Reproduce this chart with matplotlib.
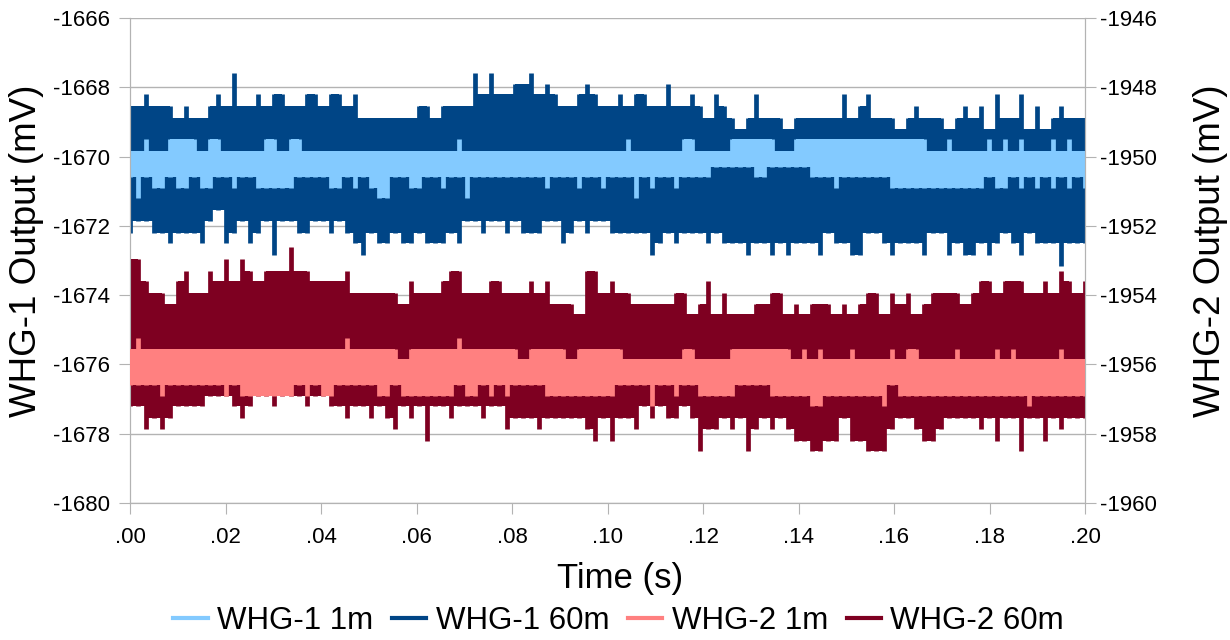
import numpy as np
import matplotlib.pyplot as plt
from matplotlib.lines import Line2D
from matplotlib.ticker import FuncFormatter

plt.rcParams['font.family'] = ['Liberation Sans', 'DejaVu Sans']
plt.rcParams['axes.unicode_minus'] = False

# sample times (s) and min/max envelope of each trace per sample bin
t = np.linspace(0, 0.2, 120)

# WHG-1 (left axis, mV)
whg1_60m_hi = [
    -1668.55, -1668.55, -1668.2, -1668.55, -1668.55, -1668.55, -1668.9, -1668.55, -1668.9, -1668.9,
    -1668.55, -1668.2, -1668.55, -1667.6, -1668.55, -1668.55, -1668.2, -1668.55, -1668.2, -1668.2,
    -1668.55, -1668.55, -1668.2, -1668.2, -1668.55, -1668.2, -1668.2, -1668.55, -1668.2, -1668.9,
    -1668.9, -1668.9, -1668.9, -1668.9, -1668.9, -1668.9, -1668.55, -1668.55, -1668.9, -1668.55,
    -1668.55, -1668.55, -1668.55, -1667.6, -1668.2, -1667.6, -1668.2, -1668.2, -1667.9, -1667.9,
    -1667.6, -1668.2, -1667.9, -1668.2, -1668.55, -1668.55, -1668.2, -1667.9, -1668.2, -1668.55,
    -1668.55, -1668.2, -1668.55, -1668.2, -1668.2, -1668.55, -1668.55, -1667.9, -1668.55, -1668.55,
    -1668.2, -1668.55, -1668.9, -1668.2, -1668.55, -1668.9, -1669.2, -1668.9, -1668.2, -1668.9,
    -1668.9, -1668.9, -1669.2, -1668.9, -1668.9, -1668.9, -1668.9, -1668.9, -1668.9, -1668.2,
    -1668.9, -1668.55, -1668.2, -1668.9, -1668.9, -1668.9, -1669.2, -1668.9, -1668.55, -1668.9,
    -1668.9, -1668.9, -1669.2, -1668.9, -1668.55, -1668.9, -1668.55, -1669.2, -1668.2, -1668.9,
    -1668.9, -1668.2, -1669.2, -1668.55, -1669.2, -1668.9, -1668.55, -1668.9, -1668.9, -1668.9]
whg1_60m_lo = [
    -1672.2, -1671.85, -1671.85, -1672.2, -1672.2, -1672.5, -1672.2, -1672.2, -1672.2, -1672.5,
    -1671.85, -1671.55, -1672.5, -1672.2, -1671.85, -1672.5, -1672.2, -1671.85, -1672.85, -1671.85,
    -1671.85, -1672.2, -1672.2, -1671.85, -1671.85, -1672.2, -1671.85, -1672.2, -1672.5, -1672.85,
    -1672.2, -1672.5, -1672.5, -1672.2, -1672.5, -1672.5, -1672.2, -1672.5, -1672.5, -1672.5,
    -1672.2, -1672.5, -1671.85, -1671.85, -1672.2, -1671.85, -1671.85, -1672.2, -1671.85, -1672.2,
    -1672.2, -1672.2, -1671.85, -1671.85, -1672.5, -1672.2, -1671.85, -1672.2, -1671.85, -1671.85,
    -1672.2, -1672.2, -1672.2, -1672.2, -1672.2, -1672.85, -1672.5, -1672.2, -1672.5, -1672.2,
    -1672.2, -1672.2, -1672.5, -1672.2, -1672.5, -1672.5, -1672.5, -1672.85, -1672.5, -1672.5,
    -1672.85, -1672.5, -1672.85, -1672.5, -1672.5, -1672.5, -1672.85, -1672.2, -1672.5, -1672.5,
    -1672.85, -1672.85, -1672.2, -1672.2, -1672.5, -1672.85, -1672.5, -1672.5, -1672.5, -1672.85,
    -1672.2, -1672.2, -1672.85, -1672.5, -1672.85, -1672.85, -1672.5, -1672.85, -1672.5, -1672.2,
    -1672.5, -1672.85, -1672.2, -1672.5, -1672.5, -1672.5, -1673.15, -1672.5, -1672.5, -1672.5]
whg1_1m_hi = [
    -1669.85, -1669.85, -1669.5, -1669.85, -1669.85, -1669.5, -1669.5, -1669.5, -1669.5, -1669.85,
    -1669.5, -1669.5, -1669.85, -1669.85, -1669.85, -1669.85, -1669.85, -1669.5, -1669.5, -1669.85,
    -1669.5, -1669.5, -1669.85, -1669.85, -1669.85, -1669.85, -1669.85, -1669.85, -1669.85, -1669.85,
    -1669.85, -1669.85, -1669.85, -1669.85, -1669.85, -1669.85, -1669.85, -1669.85, -1669.85, -1669.85,
    -1669.85, -1669.5, -1669.85, -1669.85, -1669.85, -1669.85, -1669.85, -1669.85, -1669.85, -1669.85,
    -1669.85, -1669.85, -1669.85, -1669.85, -1669.85, -1669.85, -1669.85, -1669.85, -1669.85, -1669.85,
    -1669.85, -1669.85, -1669.5, -1669.85, -1669.85, -1669.85, -1669.85, -1669.85, -1669.85, -1669.5,
    -1669.5, -1669.85, -1669.85, -1669.85, -1669.85, -1669.5, -1669.5, -1669.5, -1669.5, -1669.5,
    -1669.5, -1669.85, -1669.85, -1669.5, -1669.5, -1669.5, -1669.5, -1669.5, -1669.5, -1669.5,
    -1669.5, -1669.5, -1669.5, -1669.5, -1669.5, -1669.5, -1669.5, -1669.5, -1669.5, -1669.5,
    -1669.85, -1669.85, -1669.5, -1669.85, -1669.85, -1669.85, -1669.85, -1669.5, -1669.85, -1669.5,
    -1669.85, -1669.5, -1669.85, -1669.85, -1669.85, -1669.5, -1669.85, -1669.5, -1669.85, -1669.85]
whg1_1m_lo = [
    -1670.6, -1671.2, -1670.6, -1670.9, -1670.9, -1670.6, -1670.9, -1670.9, -1670.6, -1670.9,
    -1670.9, -1670.6, -1670.6, -1670.9, -1670.6, -1670.6, -1670.9, -1670.9, -1670.9, -1670.9,
    -1670.9, -1670.6, -1670.6, -1670.6, -1670.6, -1670.9, -1670.9, -1670.6, -1670.9, -1670.6,
    -1670.9, -1671.2, -1671.2, -1670.6, -1670.6, -1670.9, -1670.9, -1670.6, -1670.6, -1670.9,
    -1670.6, -1670.6, -1671.2, -1670.6, -1670.6, -1670.6, -1670.6, -1670.6, -1670.6, -1670.6,
    -1670.6, -1670.6, -1670.9, -1670.6, -1670.6, -1670.6, -1670.9, -1670.6, -1670.6, -1670.9,
    -1670.6, -1670.6, -1670.6, -1671.2, -1670.6, -1670.9, -1670.6, -1670.6, -1670.9, -1670.6,
    -1670.6, -1670.6, -1670.6, -1670.3, -1670.3, -1670.3, -1670.3, -1670.3, -1670.6, -1670.6,
    -1670.3, -1670.3, -1670.3, -1670.3, -1670.3, -1670.6, -1670.6, -1670.6, -1670.9, -1670.6,
    -1670.6, -1670.6, -1670.6, -1670.6, -1670.6, -1670.9, -1670.9, -1670.9, -1670.9, -1670.9,
    -1670.9, -1670.9, -1670.9, -1670.9, -1670.9, -1670.9, -1670.9, -1670.6, -1670.9, -1670.9,
    -1670.6, -1670.9, -1670.6, -1670.9, -1670.6, -1670.9, -1670.6, -1670.9, -1670.6, -1670.9]

# WHG-2 (right axis, mV)
whg2_60m_hi = [
    -1952.95, -1952.95, -1953.6, -1953.95, -1953.95, -1954.25, -1953.6, -1953.3, -1953.95, -1953.95,
    -1953.3, -1953.6, -1952.95, -1953.6, -1952.95, -1953.3, -1953.6, -1953.3, -1953.3, -1953.3,
    -1952.6, -1953.3, -1953.3, -1953.6, -1953.6, -1953.6, -1953.6, -1953.3, -1953.95, -1953.95,
    -1953.95, -1953.95, -1953.95, -1953.95, -1954.25, -1953.6, -1953.95, -1953.95, -1953.95, -1953.6,
    -1953.3, -1953.3, -1953.95, -1953.95, -1953.95, -1953.6, -1953.6, -1953.95, -1953.95, -1953.95,
    -1953.6, -1953.95, -1953.6, -1954.25, -1954.25, -1954.25, -1954.55, -1953.3, -1953.3, -1953.95,
    -1953.6, -1953.95, -1953.95, -1954.25, -1954.25, -1954.25, -1954.25, -1954.25, -1953.95, -1953.95,
    -1954.55, -1954.25, -1953.6, -1954.55, -1953.95, -1954.55, -1954.55, -1954.55, -1954.25, -1954.25,
    -1953.95, -1953.95, -1954.55, -1954.25, -1954.55, -1954.25, -1954.25, -1954.25, -1954.55, -1954.25,
    -1954.55, -1954.25, -1953.95, -1953.95, -1954.55, -1953.95, -1954.25, -1953.95, -1954.55, -1954.25,
    -1953.95, -1953.95, -1953.95, -1953.95, -1954.25, -1953.95, -1953.6, -1953.6, -1953.95, -1953.6,
    -1953.6, -1953.6, -1953.95, -1953.95, -1953.6, -1953.95, -1953.3, -1953.6, -1953.95, -1953.6]
whg2_60m_lo = [
    -1957.2, -1957.2, -1957.85, -1957.55, -1957.85, -1957.55, -1957.2, -1957.2, -1957.2, -1957.2,
    -1956.9, -1956.9, -1956.9, -1957.2, -1957.55, -1957.2, -1956.9, -1956.9, -1957.2, -1956.9,
    -1956.9, -1956.9, -1957.2, -1956.9, -1956.9, -1957.2, -1957.2, -1957.55, -1957.2, -1957.2,
    -1957.55, -1957.2, -1957.55, -1957.85, -1957.2, -1957.55, -1957.2, -1958.2, -1957.2, -1957.2,
    -1957.55, -1957.2, -1957.2, -1957.2, -1957.55, -1957.2, -1957.2, -1957.85, -1957.55, -1957.55,
    -1957.55, -1957.85, -1957.55, -1957.55, -1957.55, -1957.55, -1957.55, -1957.85, -1958.2, -1957.55,
    -1958.2, -1957.55, -1957.55, -1957.85, -1957.2, -1957.55, -1957.2, -1957.55, -1957.55, -1957.2,
    -1957.55, -1958.5, -1957.85, -1957.85, -1957.55, -1957.85, -1957.55, -1958.5, -1957.85, -1957.55,
    -1957.85, -1957.55, -1957.85, -1958.2, -1958.2, -1958.5, -1958.5, -1958.2, -1958.2, -1957.55,
    -1958.2, -1958.2, -1958.5, -1958.5, -1958.5, -1957.85, -1957.55, -1957.55, -1957.85, -1958.2,
    -1958.2, -1957.85, -1957.55, -1957.55, -1957.55, -1957.55, -1957.85, -1957.55, -1958.2, -1957.55,
    -1957.55, -1958.5, -1957.55, -1957.55, -1958.2, -1957.55, -1957.85, -1957.55, -1957.55, -1957.55]
whg2_1m_hi = [
    -1955.55, -1955.25, -1955.55, -1955.55, -1955.55, -1955.55, -1955.55, -1955.55, -1955.55, -1955.55,
    -1955.55, -1955.55, -1955.55, -1955.55, -1955.55, -1955.55, -1955.55, -1955.55, -1955.55, -1955.55,
    -1955.55, -1955.55, -1955.55, -1955.55, -1955.55, -1955.55, -1955.55, -1955.25, -1955.55, -1955.55,
    -1955.55, -1955.55, -1955.55, -1955.55, -1955.85, -1955.55, -1955.55, -1955.55, -1955.55, -1955.55,
    -1955.55, -1955.25, -1955.55, -1955.55, -1955.55, -1955.55, -1955.55, -1955.55, -1955.55, -1955.85,
    -1955.55, -1955.55, -1955.55, -1955.55, -1955.55, -1955.85, -1955.55, -1955.55, -1955.55, -1955.55,
    -1955.55, -1955.55, -1955.85, -1955.85, -1955.85, -1955.85, -1955.85, -1955.85, -1955.85, -1955.55,
    -1955.55, -1955.85, -1955.85, -1955.85, -1955.85, -1955.55, -1955.55, -1955.55, -1955.55, -1955.55,
    -1955.55, -1955.55, -1955.55, -1955.85, -1955.55, -1955.85, -1955.55, -1955.85, -1955.85, -1955.85,
    -1955.55, -1955.85, -1955.85, -1955.85, -1955.85, -1955.55, -1955.85, -1955.55, -1955.55, -1955.85,
    -1955.85, -1955.85, -1955.85, -1955.55, -1955.85, -1955.85, -1955.85, -1955.85, -1955.55, -1955.85,
    -1955.55, -1955.85, -1955.85, -1955.85, -1955.85, -1955.85, -1955.55, -1955.85, -1955.85, -1955.85]
whg2_1m_lo = [
    -1956.6, -1956.6, -1956.6, -1956.6, -1956.9, -1956.6, -1956.6, -1956.6, -1956.6, -1956.6,
    -1956.6, -1956.6, -1956.9, -1956.6, -1956.9, -1956.9, -1956.9, -1956.9, -1956.9, -1956.9,
    -1956.9, -1956.6, -1956.9, -1956.6, -1956.9, -1956.9, -1956.6, -1956.6, -1956.6, -1956.6,
    -1956.6, -1956.9, -1956.9, -1956.6, -1956.9, -1956.9, -1956.9, -1956.9, -1956.9, -1956.9,
    -1956.9, -1956.6, -1956.9, -1956.9, -1956.6, -1956.9, -1956.6, -1956.9, -1956.6, -1956.6,
    -1956.6, -1956.6, -1956.9, -1956.9, -1956.9, -1956.9, -1956.9, -1956.9, -1956.9, -1956.9,
    -1956.9, -1956.6, -1956.6, -1956.6, -1956.6, -1957.2, -1956.6, -1956.6, -1956.9, -1956.6,
    -1956.6, -1956.9, -1956.9, -1956.9, -1956.9, -1956.9, -1956.6, -1956.6, -1956.6, -1956.6,
    -1956.9, -1956.9, -1956.9, -1956.9, -1956.9, -1957.2, -1957.2, -1956.9, -1956.9, -1956.9,
    -1956.9, -1956.9, -1956.9, -1956.9, -1957.2, -1956.6, -1956.9, -1956.9, -1956.9, -1956.9,
    -1956.9, -1956.9, -1956.9, -1956.9, -1956.9, -1956.9, -1956.9, -1956.9, -1956.9, -1956.9,
    -1956.9, -1956.9, -1957.2, -1956.9, -1956.9, -1956.9, -1956.9, -1956.9, -1956.9, -1956.9]

labels = ['WHG-1 1m', 'WHG-1 60m', 'WHG-2 1m', 'WHG-2 60m']
colors = ['#83caff', '#004586', '#ff8080', '#7e0021']
grid_c = '#b3b3b3'


def trace(a, lo, hi, color, z):
    # dense trace drawn as its envelope: shared level between neighbouring
    # samples is filled, each sample's own extreme is a narrow stroke
    lo = np.asarray(lo)
    hi = np.asarray(hi)
    hi_seg = np.append(np.minimum(hi[:-1], hi[1:]), hi[-1])
    lo_seg = np.append(np.maximum(lo[:-1], lo[1:]), lo[-1])
    a.fill_between(t, lo_seg, hi_seg, step='post', color=color, lw=0, zorder=z)
    a.vlines(t, lo, hi, color=color, lw=3.4, zorder=z)


fig = plt.figure(figsize=(12.3, 6.4), dpi=100)
ax = fig.add_axes([130 / 1230, 137 / 640, 955 / 1230, 485 / 640])
ax2 = ax.twinx()

trace(ax, whg1_60m_lo, whg1_60m_hi, colors[1], 2)
trace(ax, whg1_1m_lo, whg1_1m_hi, colors[0], 3)
trace(ax2, whg2_60m_lo, whg2_60m_hi, colors[3], 2)
trace(ax2, whg2_1m_lo, whg2_1m_hi, colors[2], 3)

ax.set_xlim(0, 0.2)
ax.set_ylim(-1680, -1666)
ax2.set_ylim(-1960, -1946)
ax.set_xticks(np.arange(0, 0.2001, 0.02))
ax.set_yticks(np.arange(-1680, -1665, 2))
ax2.set_yticks(np.arange(-1960, -1945, 2))
ax.xaxis.set_major_formatter(FuncFormatter(lambda v, p: f'{v:.2f}'[1:]))

ax.set_axisbelow(True)
ax.yaxis.grid(True, color=grid_c, lw=1)
for a in (ax, ax2):
    a.spines['top'].set_visible(False)
    for s in ('left', 'right', 'bottom'):
        a.spines[s].set_color(grid_c)
ax.tick_params(axis='both', direction='out', length=8, color=grid_c, labelsize=16)
ax.tick_params(axis='y', pad=6.5)
ax.tick_params(axis='x', pad=9)
ax2.tick_params(axis='y', direction='out', length=8, color=grid_c, labelsize=16, pad=3)

ax.set_xlabel('Time (s)', fontsize=25, va='center')
ax.xaxis.set_label_coords(0.513, -0.155)
ax.set_ylabel('WHG-1 Output (mV)', fontsize=26.5, va='center')
ax.yaxis.set_label_coords(-0.108, 0.52)
ax2.set_ylabel('WHG-2 Output (mV)', fontsize=26.5, va='center')
ax2.yaxis.set_label_coords(1.131, 0.52)

handles = [Line2D([], [], color=c, lw=3) for c in colors]
fig.legend(handles, labels, loc='center', bbox_to_anchor=(0.503, 0.03), ncol=4,
           frameon=False, fontsize=22.5, handlelength=1.1, handletextpad=0.3, columnspacing=0.6)

fig.savefig('out.png', dpi=100)
